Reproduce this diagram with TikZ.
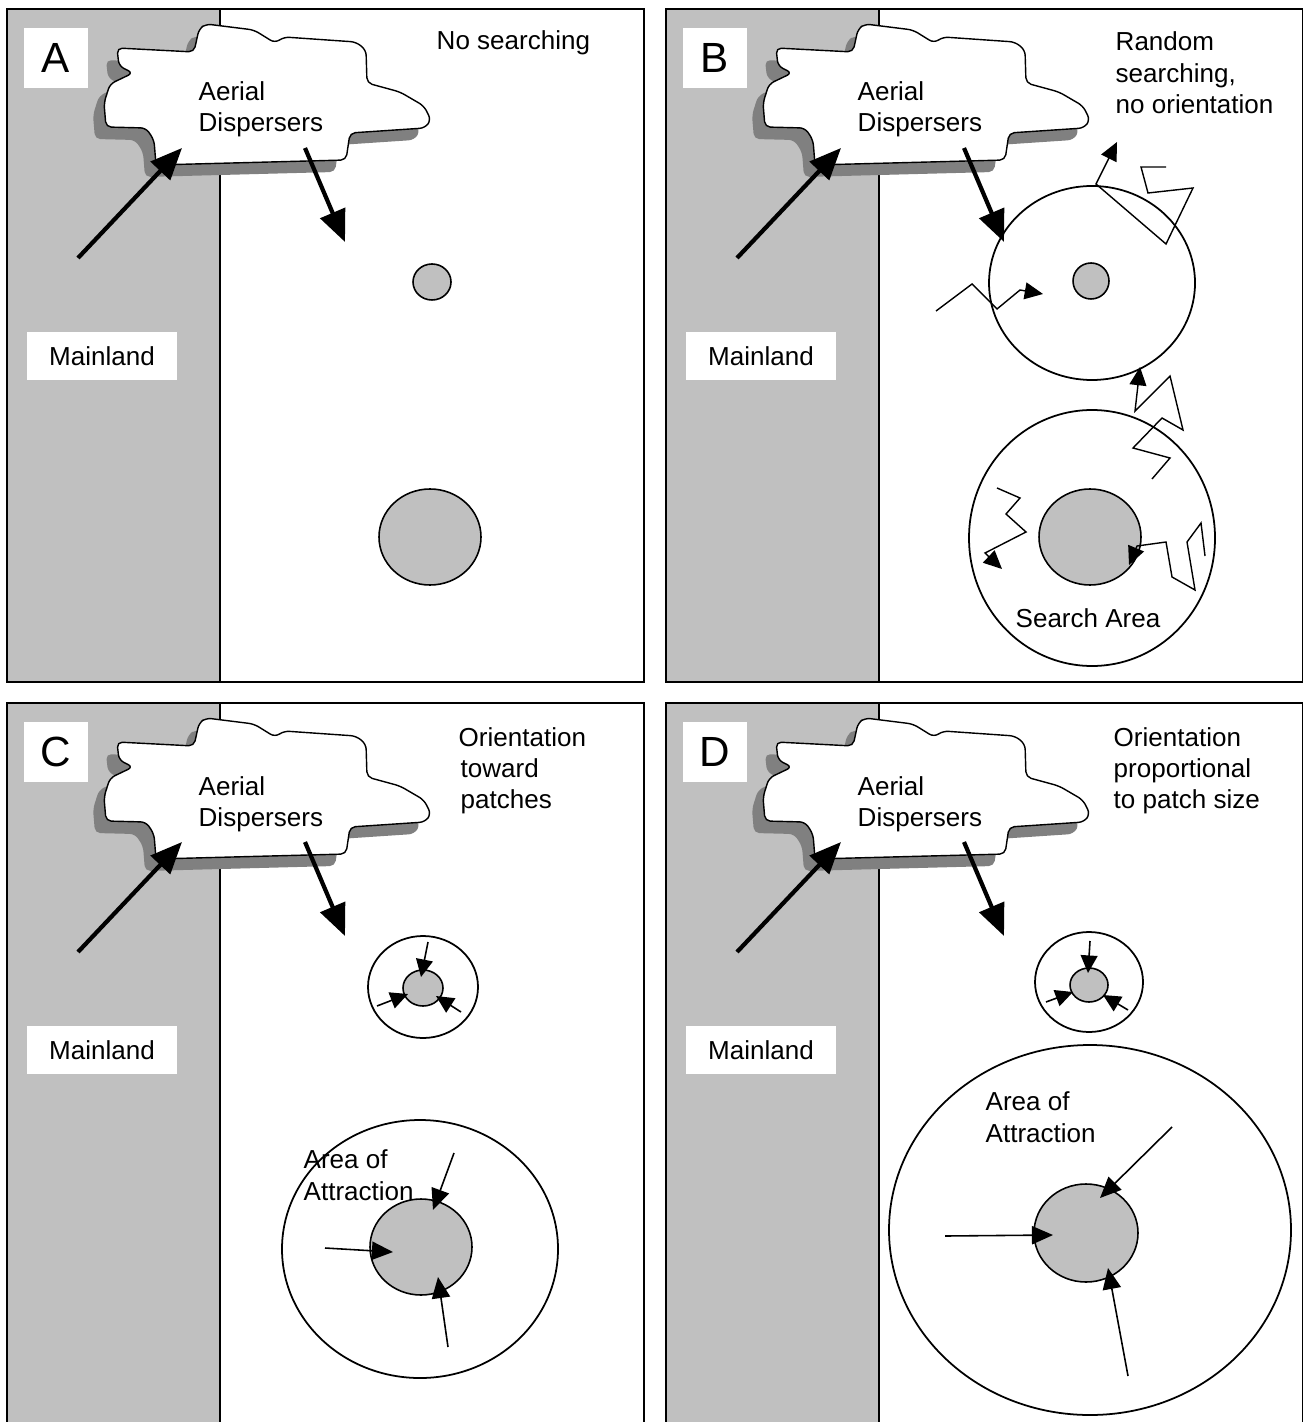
\documentclass[tikz,border=0pt]{standalone}
\usepackage{fontspec}
\setmainfont{Liberation Sans}
\usetikzlibrary{arrows.meta}
\definecolor{landgray}{RGB}{192,192,192}
\definecolor{shadegray}{RGB}{128,128,128}

\begin{document}
\begin{tikzpicture}[x=0.01cm,y=-0.01cm,
    txt/.style={inner sep=0pt,anchor=base west,font=\fontsize{7.4}{9}\selectfont},
    bigarrow/.style={line width=1.2pt,-{Triangle[length=9pt,width=7.5pt]}},
    walk/.style={line width=0.4pt,-{Triangle[length=5.2pt,width=4.8pt]}},
    pull/.style={line width=0.45pt,-{Triangle[length=6pt,width=5.2pt]}},
    nudge/.style={line width=0.45pt,-{Triangle[length=5pt,width=4.8pt]}},
    patch/.style={draw,line width=0.45pt,fill=landgray},
    area/.style={draw,line width=0.5pt},
    cloudshape/.style={rounded corners=1.5pt,insert path={(117,48) -- (194,52) -- (199,29) -- (206,24)
      -- (254,30) -- (275,43) -- (284,37) -- (356,42) -- (366,50) -- (367,83) -- (400,92) -- (424,106)
      -- (431,120) -- (425,128) -- (350,133) -- (346,160) -- (156,165) -- (154,140) -- (146,128)
      -- (106,127) -- (104,103) -- (110,84) -- (133,73) -- (119,66) -- cycle}}]
  \useasboundingbox (0,0) rectangle (1302,1422);
  \fill[white] (0,0) rectangle (1302,1422);

  % the part that all four panels share
  \foreach \dx/\dy/\lab/\h in {0/0/A/682,659/0/B/682,0/694/C/760,659/694/D/760}{
    \begin{scope}[shift={(\dx,\dy)}]
      \fill[landgray] (7,9) rectangle (220,\h);
      \draw[line width=0.5pt] (7,9) rectangle (644,\h);
      \draw[line width=0.5pt] (220,9) -- (220,\h);
      \node[fill=white,minimum width=0.64cm,minimum height=0.6cm,inner sep=0pt,
        font=\fontsize{12}{14}\selectfont] (tag\lab) at (56,58) {\lab};
      \node[fill=white,minimum width=1.5cm,minimum height=0.47cm,inner sep=0pt,
        font=\fontsize{7.4}{9}\selectfont] (land\lab) at (102,356) {Mainland};
      \fill[shadegray,shift={(-11,12)},cloudshape];
      \draw[fill=white,line width=0.4pt,cloudshape];
      \node[txt] (aer\lab) at (198,101) {Aerial};
      \node[txt] (dis\lab) at (198,132) {Dispersers};
      \coordinate (in\lab) at (78,258);
      \coordinate (up\lab) at (182,148);
      \coordinate (dn\lab) at (305,148);
      \coordinate (fall\lab) at (345,242);
      \draw[bigarrow] (in\lab) -- (up\lab);
      \draw[bigarrow] (dn\lab) -- (fall\lab);
    \end{scope}
  }

  % A
  \node[txt] (modeA) at (436,50) {No searching};
  \filldraw[patch] (432,282) ellipse (19 and 18);
  \filldraw[patch] (430,537) ellipse (51 and 48);

  % B
  \node[txt] (modeB1) at (1115,51) {Random};
  \node[txt] (modeB2) at (1115,83) {searching,};
  \node[txt] (modeB3) at (1115,114) {no orientation};
  \draw[area] (1092,283) ellipse (103 and 97);
  \filldraw[patch] (1091,281) ellipse (18 and 18);
  \draw[area] (1092,538) ellipse (123 and 128);
  \filldraw[patch] (1090,537) ellipse (51 and 48);
  \node[inner sep=0pt,anchor=base,font=\fontsize{7.4}{9}\selectfont] (search) at (1088,627) {Search Area};
  \draw[walk] (1166,167) -- (1141,167) -- (1148,193) -- (1193,188) -- (1166,244) -- (1096,184) -- (1117,142);
  \draw[walk] (936,311) -- (972,284) -- (997,309) -- (1020,290) -- (1043,294);
  \draw[walk] (1152,479) -- (1170,458) -- (1133,448) -- (1162,418) -- (1183,430) -- (1170,376) -- (1135,411) -- (1140,367);
  \draw[walk] (997,488) -- (1020,498) -- (1006,514) -- (1026,532) -- (985,553) -- (1002,569);
  \draw[walk] (1205,556) -- (1201,523) -- (1187,542) -- (1195,590) -- (1172,577) -- (1166,542) -- (1137,546) -- (1129,565);

  % C
  \node[txt] (modeC1) at (458,746) {Orientation};
  \node[txt] (modeC2) at (460,777) {toward};
  \node[txt] (modeC3) at (460,808) {patches};
  \draw[area] (423,987) ellipse (55 and 51);
  \filldraw[patch] (423,988) ellipse (20 and 18);
  \draw[nudge] (428,942) -- (421,977);
  \draw[nudge] (377,1006) -- (408,994);
  \draw[nudge] (461,1012) -- (436,996);
  \draw[area] (420,1249) ellipse (138 and 129);
  \filldraw[patch] (421,1247) ellipse (51 and 48);
  \draw[pull] (454,1153) -- (433,1210);
  \draw[pull] (325,1248) -- (393,1252);
  \draw[pull] (448,1347) -- (438,1277);
  \node[txt] (attrC1) at (303,1168) {Area of};
  \node[txt] (attrC2) at (303,1200) {Attraction};

  % D
  \node[txt] (modeD1) at (1113,746) {Orientation};
  \node[txt] (modeD2) at (1113,777) {proportional};
  \node[txt] (modeD3) at (1113,808) {to patch size};
  \draw[area] (1089,982) ellipse (54 and 50);
  \filldraw[patch] (1089,985) ellipse (19 and 17);
  \draw[nudge] (1090,941) -- (1088,973);
  \draw[nudge] (1046,1002) -- (1073,992);
  \draw[nudge] (1128,1010) -- (1103,995);
  \draw[area] (1090,1230) ellipse (201 and 185);
  \filldraw[patch] (1086,1233) ellipse (52 and 49);
  \draw[pull] (1172,1127) -- (1100,1198);
  \draw[pull] (945,1236) -- (1053,1235);
  \draw[pull] (1128,1376) -- (1108,1268);
  \node[txt] (attrD1) at (985,1110) {Area of};
  \node[txt] (attrD2) at (985,1142) {Attraction};
\end{tikzpicture}
\end{document}
